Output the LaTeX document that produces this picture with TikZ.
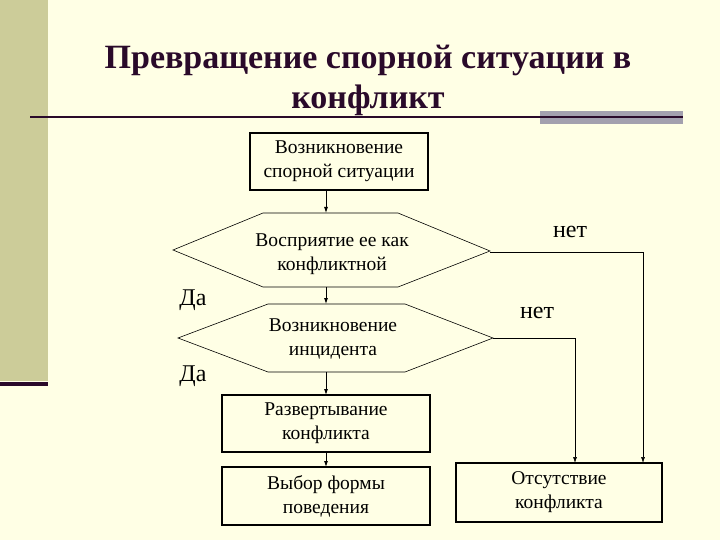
\documentclass[tikz,border=0pt]{standalone}
\usepackage{fontspec}
\setmainfont{Liberation Serif}
\usetikzlibrary{arrows.meta}
\definecolor{bg}{HTML}{FFFFE5}
\definecolor{bar}{HTML}{CCCC99}
\definecolor{ttl}{HTML}{2A0A2A}
\definecolor{gbar}{HTML}{A3A0AE}
\begin{document}
\begin{tikzpicture}[x=1pt,y=-1pt,
  box/.style={draw,line width=1.2pt,inner sep=0pt},
  txt/.style={font=\fontsize{19.5}{24}\selectfont,align=center},
  lab/.style={font=\fontsize{24}{26}\selectfont},
  arr/.style={-{Latex[length=6pt,width=4pt]},line width=0.8pt},
  hexl/.style={line width=0.6pt}]
\useasboundingbox (0,0) rectangle (720,540);
\fill[bg] (0,0) rectangle (720,540);
\fill[bar] (0,0) rectangle (48,381);
\fill[ttl] (0,382) rectangle (48,386);
\fill[gbar] (540,111) rectangle (683,124);
\draw[ttl,line width=2pt] (30,117) -- (683,117);
\node[font=\bfseries\fontsize{34}{40}\selectfont,text=ttl,align=center] (title) at (368,80) {Превращение спорной ситуации в\\конфликт};
% box1
\draw[box] (250,133) rectangle (428,190);
\node[txt] (b1) at (339,161) {Возникновение\\спорной ситуации};
% hex1
\draw[hexl] (173,250) -- (263,213) -- (398,213) -- (490,251) -- (398,287) -- (263,287) -- cycle;
\coordinate (h1t) at (326,213); \coordinate (h1b) at (326,287); \coordinate (h1r) at (490,252);
\node[txt] (t1) at (332,254) {Восприятие ее как\\конфликтной};
% hex2
\draw[hexl] (178,338) -- (268,304) -- (405,304) -- (493,338) -- (405,372) -- (268,372) -- cycle;
\coordinate (h2t) at (326,304); \coordinate (h2b) at (326,372); \coordinate (h2r) at (493,338);
\node[txt] (t2) at (333,339) {Возникновение\\инцидента};
% boxes
\draw[box] (222,395) rectangle (430,452);
\node[txt] (b3) at (326,423) {Развертывание\\конфликта};
\draw[box] (222,467) rectangle (430,525);
\node[txt] (b4) at (326,496) {Выбор формы\\поведения};
\draw[box] (456,463) rectangle (662,522);
\node[txt] (b5) at (559,492) {Отсутствие\\конфликта};
\coordinate (b1b) at (326,190); \coordinate (b3t) at (326,395);
\coordinate (b3b) at (326,452); \coordinate (b4t) at (326,467);
\coordinate (b5a) at (643,463); \coordinate (b5b) at (575,463);
% arrows
\draw[arr] (b1b) -- (h1t);
\draw[arr] (h1b) -- (h2t);
\draw[arr] (h2b) -- (b3t);
\draw[arr] (b3b) -- (b4t);
\draw[arr,line width=0.6pt] (h1r) -- (643,252) -- (b5a);
\draw[arr,line width=0.6pt] (h2r) -- (575,338) -- (b5b);
\node[lab] (n1) at (570,232) {нет};
\node[lab] (n2) at (537,313) {нет};
\node[lab] (d1) at (193,300) {Да};
\node[lab] (d2) at (193,376) {Да};
\end{tikzpicture}
\end{document}
